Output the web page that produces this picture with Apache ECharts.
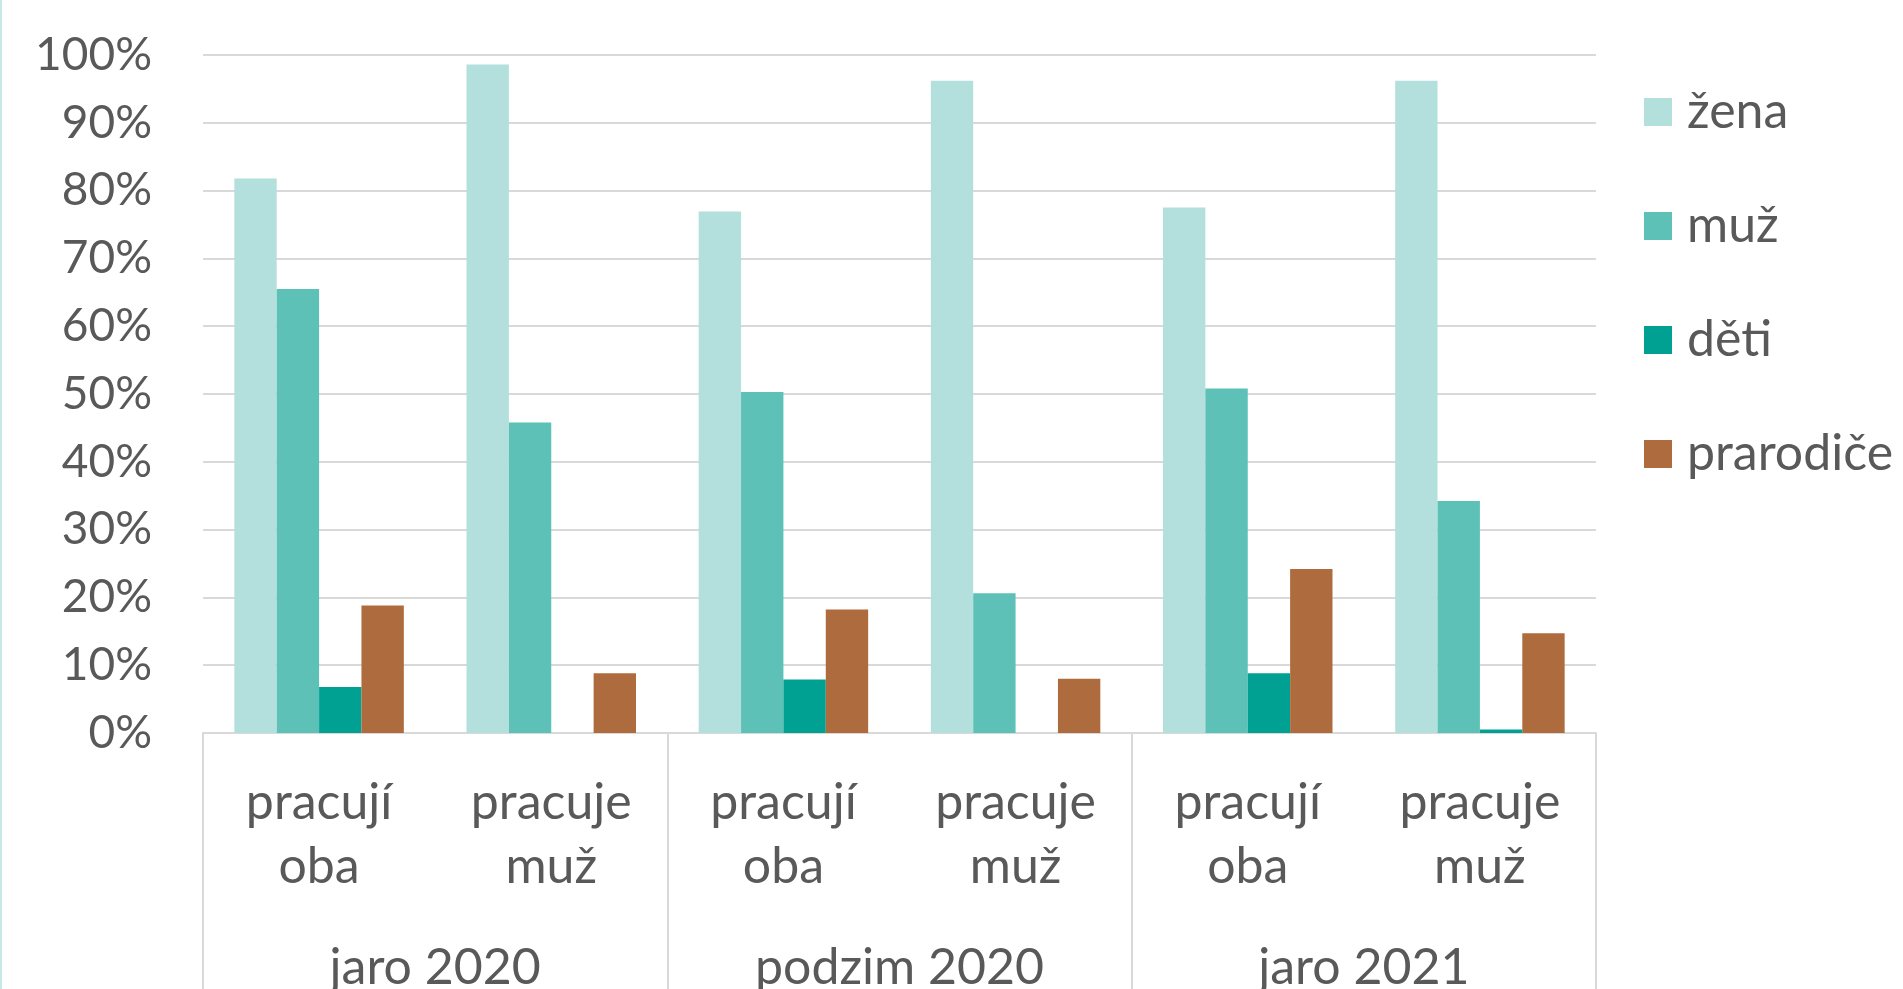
<!DOCTYPE html>
<html><head><meta charset="utf-8">
<script src="https://cdn.jsdelivr.net/npm/echarts@6/dist/echarts.min.js"></script>
<style>html,body{margin:0;padding:0;background:#fff}#c{width:1903px;height:989px}</style>
</head><body><div id="c"></div>
<script>
const categories = ['pracují\noba','pracuje\nmuž','pracují\noba','pracuje\nmuž','pracují\noba','pracuje\nmuž'];
const groups = ['jaro 2020','podzim 2020','jaro 2021'];
const zena = [81.8, 98.6, 76.9, 96.2, 77.5, 96.2];
const muz = [65.5, 45.8, 50.3, 20.6, 50.8, 34.2];
const deti = [6.8, 0, 7.9, 0, 8.8, 0.5];
const prarodice = [18.8, 8.8, 18.2, 8.0, 24.2, 14.7];
const seriesNames = ['žena','muž','děti','prarodiče'];
const colors = ['#B3E0DC','#5DC1B8','#00A092','#AE6B3D'];

const font = 'Lato';
const textColor = '#595959';
const chart = echarts.init(document.getElementById('c'), null, {renderer:'canvas'});
const dataSets = [zena, muz, deti, prarodice];
chart.setOption({
  animation:false,
  textStyle:{fontFamily:font},
  grid:{left:203, right:307, top:55, bottom:256, containLabel:false, outerBoundsMode:'none'},
  legend:{
    orient:'vertical', left:1639, top:82,
    itemWidth:28, itemHeight:28, itemGap:64,
    icon:'rect',
    textStyle:{fontSize:50, color:textColor, fontFamily:font, lineHeight:50, padding:[0,0,0,10]},
    data:seriesNames
  },
  xAxis:[{
    type:'category', data:categories, position:'bottom',
    axisLine:{show:true, lineStyle:{color:'#D9D9D9', width:2}},
    axisTick:{show:false},
    axisLabel:{fontSize:50, color:textColor, fontFamily:font, lineHeight:64, margin:38, interval:0}
  },{
    type:'category', data:groups, position:'bottom',
    axisLine:{show:false},
    axisTick:{show:true, length:300, lineStyle:{color:'#D9D9D9', width:2}},
    axisLabel:{fontSize:50, color:textColor, fontFamily:font, margin:210, interval:0}
  }],
  yAxis:{
    type:'value', min:0, max:100, interval:10,
    axisLine:{show:false}, axisTick:{show:false},
    splitLine:{lineStyle:{color:'#D9D9D9', width:2}},
    axisLabel:{formatter:'{value}%', fontSize:46, color:textColor, fontFamily:font, margin:51}
  },
  series: seriesNames.map((n,i)=>({
    name:n, type:'bar', xAxisIndex:0, data:dataSets[i],
    barGap:'0%', barCategoryGap:'27%',
    itemStyle:{color:colors[i]}
  })),
  graphic:[{type:'rect', shape:{x:0,y:0,width:2,height:989}, style:{fill:'#C9E9E6'}}]
});
</script></body></html>
